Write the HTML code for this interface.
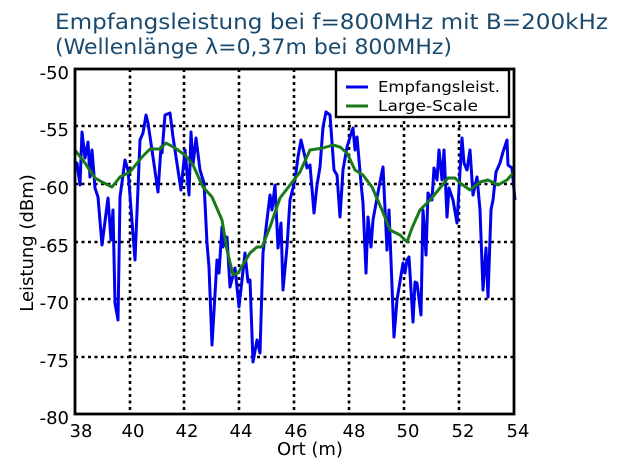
<!DOCTYPE html>
<html><head><meta charset="utf-8"><style>body{margin:0;background:#fff}svg{display:block}</style></head><body>
<svg width="633" height="470" xmlns="http://www.w3.org/2000/svg" font-family="DejaVu Sans, Liberation Sans, sans-serif">
<rect width="633" height="470" fill="#fff"/>
<text x="55" y="29" font-size="21" fill="#1a4a6e" textLength="553" lengthAdjust="spacingAndGlyphs">Empfangsleistung bei f=800MHz mit B=200kHz</text>
<text x="55" y="54" font-size="21" fill="#1a4a6e" textLength="397" lengthAdjust="spacingAndGlyphs">(Wellenlänge λ=0,37m bei 800MHz)</text>
<g stroke="#000" stroke-width="2.6" stroke-dasharray="3,3.5">
<line x1="130" y1="69" x2="130" y2="414"/><line x1="184" y1="69" x2="184" y2="414"/><line x1="239" y1="69" x2="239" y2="414"/><line x1="294" y1="69" x2="294" y2="414"/><line x1="349" y1="69" x2="349" y2="414"/><line x1="404" y1="69" x2="404" y2="414"/><line x1="459" y1="69" x2="459" y2="414"/>
<line x1="75" y1="126" x2="514" y2="126"/><line x1="75" y1="184" x2="514" y2="184"/><line x1="75" y1="242" x2="514" y2="242"/><line x1="75" y1="299" x2="514" y2="299"/><line x1="75" y1="357" x2="514" y2="357"/>
</g>
<polyline fill="none" stroke="#0000ee" stroke-width="3" stroke-linejoin="round" points="75,163 77,163 80,185 82,132 85,158 88,142 90,177 92,150 95,188 98,197 102,245 108,198 111,240 113,210 115,303 118,320 120,197 125,160 128,170 135,260 140,140 143,133 146,115 148,123 153,157 158,192 161,147 162,153 165,115 170,113 173,137 181,190 185,150 189,195 191,132 193,165 196,138 200,170 204,183 207,243 209,267 212,345 217,260 219,273 222,227 223,247 227,237 230,287 235,268 239,307 245,253 248,282 250,280 253,362 257,340 260,353 263,253 270,195 272,210 275,185 278,248 281,223 283,290 287,247 290,200 295,180 298,157 301,140 305,157 307,168 310,165 314,213 317,185 320,167 323,127 326,112 330,115 334,170 337,175 340,217 343,170 347,147 350,137 353,128 355,150 357,137 361,183 363,203 366,273 368,217 371,247 373,220 379,187 383,167 387,250 389,210 394,337 397,300 403,263 405,273 407,260 409,257 413,322 415,282 417,283 421,315 423,210 426,255 428,193 432,200 434,168 437,180 439,150 442,180 444,150 447,217 449,188 453,200 457,223 462,138 464,163 467,170 470,150 473,195 477,177 480,210 483,290 486,248 488,297 491,210 493,200 496,172 500,163 503,152 507,140 508,165 512,168 515,200"/>
<polyline fill="none" stroke="#1a7a1a" stroke-width="3" stroke-linejoin="round" points="75,150 85,163 95,178 102,182 112,187 120,177 130,172 142,157 150,149 160,149 166,143 175,148 185,155 193,165 203,187 212,197 222,220 227,250 233,275 238,273 250,253 257,247 262,247 270,227 280,198 290,185 300,172 310,150 323,148 333,145 340,147 347,153 355,170 363,175 372,187 382,210 390,230 400,235 407,242 412,228 420,210 430,200 440,188 448,178 455,178 460,183 470,190 480,182 488,180 498,185 507,180 514,172"/>
<rect x="75" y="69" width="439" height="345" fill="none" stroke="#000" stroke-width="2.8"/>
<rect x="336" y="70" width="173" height="47" fill="#fff" stroke="#000" stroke-width="2.4"/>
<line x1="346" y1="87" x2="368" y2="87" stroke="#0000ee" stroke-width="3"/>
<line x1="346" y1="106" x2="368" y2="106" stroke="#1a7a1a" stroke-width="3"/>
<text x="378" y="92" font-size="15.5" textLength="122" lengthAdjust="spacingAndGlyphs">Empfangsleist.</text>
<text x="378" y="111" font-size="15.5" textLength="100" lengthAdjust="spacingAndGlyphs">Large-Scale</text>
<g font-size="18" text-anchor="end">
<text x="69" y="79">-50</text><text x="69" y="136">-55</text><text x="69" y="194">-60</text><text x="69" y="252">-65</text><text x="69" y="309">-70</text><text x="69" y="367">-75</text><text x="69" y="424">-80</text>
</g>
<g font-size="18" text-anchor="middle">
<text x="81" y="437">38</text><text x="133" y="437">40</text><text x="187" y="437">42</text><text x="241" y="437">44</text><text x="296" y="437">46</text><text x="354" y="437">48</text><text x="408" y="437">50</text><text x="463" y="437">52</text><text x="518" y="437">54</text>
</g>
<text x="310" y="455" font-size="18" text-anchor="middle">Ort (m)</text>
<text transform="translate(33,243) rotate(-90)" font-size="18" text-anchor="middle">Leistung (dBm)</text>
</svg>
</body></html>
